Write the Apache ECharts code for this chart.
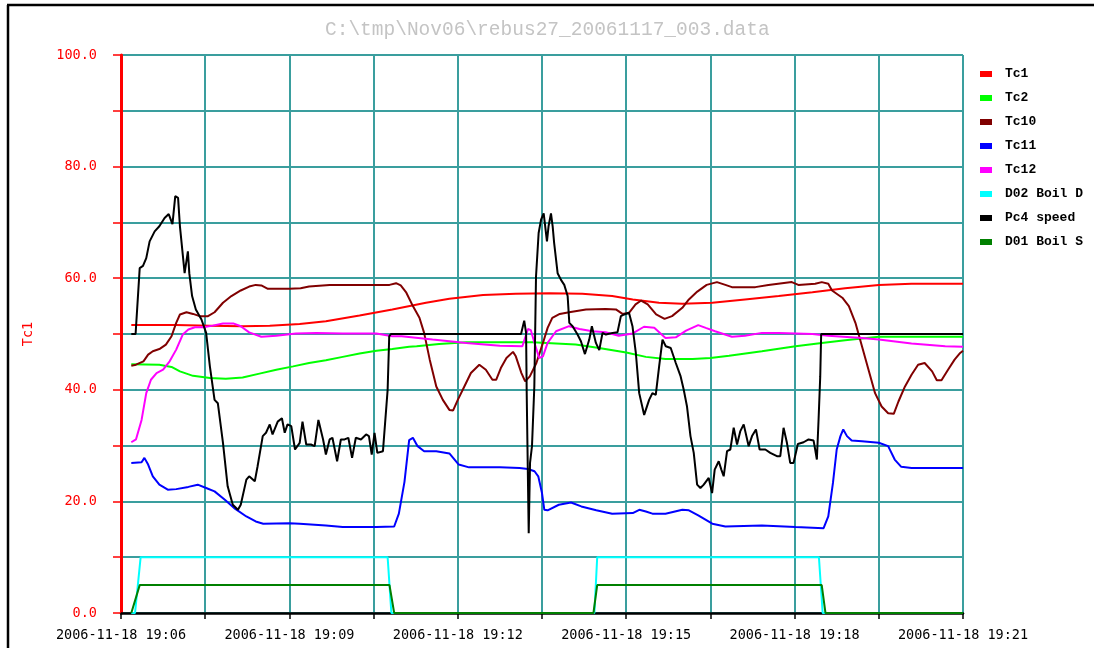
<!DOCTYPE html>
<html>
<head>
<meta charset="utf-8">
<script src="https://cdn.jsdelivr.net/npm/echarts@6/dist/echarts.min.js"></script>
<style>
html,body{margin:0;padding:0;background:#fff;}
#chart{width:1094px;height:648px;}
</style>
</head>
<body>
<div id="chart"></div>
<script>
// time in seconds after 2006-11-18 19:06:00
const titleText = 'C:\\tmp\\Nov06\\rebus27_20061117_003.data';
const seriesNames = ['Tc1','Tc2','Tc10','Tc11','Tc12','D02 Boil D','Pc4 speed','D01 Boil S'];
const seriesColors = ['#ff0000','#00ff00','#800000','#0000ff','#ff00ff','#00ffff','#000000','#008000'];
const xTickLabels = ['2006-11-18 19:06','2006-11-18 19:09','2006-11-18 19:12','2006-11-18 19:15','2006-11-18 19:18','2006-11-18 19:21'];
const yTickLabels = ['0.0','20.0','40.0','60.0','80.0','100.0'];

const tc1 = [[11,51.6],[59,51.6],[95,51.5],[130,51.4],[159,51.5],[191,51.8],[219,52.3],[255,53.3],[290,54.4],[326,55.6],[351,56.3],[387,57],[422,57.2],[458,57.3],[493,57.2],[525,56.8],[547,56.2],[575,55.6],[600,55.4],[632,55.6],[667,56.2],[703,56.8],[739,57.5],[774,58.2],[810,58.8],[845,59],[900,59]];

const tc2 = [[11,44.6],[41,44.5],[54,44.1],[63,43.3],[77,42.5],[95,42.1],[112,42],[130,42.2],[148,42.9],[166,43.6],[184,44.2],[201,44.8],[219,45.3],[237,45.9],[255,46.5],[273,47],[290,47.3],[308,47.7],[316,47.8],[340,48.2],[369,48.5],[405,48.5],[440,48.5],[465,48.3],[486,48.1],[511,47.5],[540,46.7],[561,45.9],[582,45.5],[611,45.5],[630,45.7],[650,46.1],[685,46.9],[721,47.8],[749,48.4],[774,48.9],[810,49.5],[845,49.5],[900,49.5]];

const tc10 = [[11,44.3],[16,44.5],[24,45.1],[29,46.3],[34,46.9],[41,47.3],[48,48.1],[54,49.6],[59,52],[63,53.5],[70,53.9],[77,53.6],[84,53.2],[93,53.2],[100,53.9],[109,55.6],[118,56.8],[128,57.8],[137,58.5],[144,58.8],[150,58.7],[157,58.1],[180,58.1],[192,58.2],[201,58.5],[223,58.8],[255,58.8],[287,58.8],[294,59.1],[299,58.7],[305,57.4],[312,55],[319,52.9],[324,50.2],[330,45.4],[337,40.6],[344,38.2],[351,36.4],[355,36.3],[360,38.2],[367,40.6],[374,43],[383,44.5],[390,43.6],[397,41.8],[401,41.8],[406,43.9],[412,45.7],[419,46.8],[422,46],[428,43],[432,41.5],[437,42.4],[444,44.8],[451,48.4],[456,51.1],[461,52.9],[469,53.6],[479,53.9],[497,54.4],[518,54.5],[529,54.4],[536,53.6],[543,53.8],[550,55.3],[556,56],[563,55.3],[572,53.5],[581,52.7],[589,53.2],[600,54.7],[607,56.2],[616,57.6],[626,58.8],[637,59.3],[646,58.8],[653,58.4],[678,58.4],[692,58.8],[717,59.3],[724,58.8],[742,59],[749,59.3],[756,59],[760,57.8],[771,56.5],[778,55],[785,52],[792,47.8],[799,43.6],[806,39.4],[813,37],[820,35.8],[826,35.7],[831,37.9],[838,40.6],[845,42.7],[852,44.5],[859,44.8],[867,43.3],[872,41.7],[877,41.7],[884,43.6],[891,45.4],[897,46.6],[900,47]];

const tc11 = [[11,26.9],[22,27],[25,27.8],[29,26.6],[34,24.5],[41,23],[50,22.1],[59,22.2],[72,22.6],[82,23],[91,22.4],[100,21.8],[111,20.3],[121,18.8],[134,17.3],[144,16.4],[152,16],[180,16.1],[191,16],[219,15.7],[237,15.4],[273,15.4],[292,15.5],[297,17.8],[303,23.5],[308,31],[312,31.4],[317,29.9],[324,29],[337,29],[351,28.6],[355,27.8],[361,26.6],[372,26.1],[405,26.1],[426,26],[435,25.8],[442,25.4],[446,24.5],[450,21.5],[452.5,18.5],[456,18.4],[468,19.4],[481,19.8],[492,19.1],[508,18.4],[525,17.8],[547,17.9],[554,18.5],[561,18.2],[568,17.8],[582,17.8],[600,18.5],[607,18.4],[617,17.5],[632,16],[646,15.5],[685,15.7],[721,15.4],[751,15.2],[756,17.3],[761,23.3],[765,29.3],[769,31.7],[772,32.9],[776,31.7],[781,30.9],[792,30.8],[810,30.5],[820,29.9],[827,27.5],[834,26.2],[845,26],[900,26]];

const tc12 = [[11,30.6],[16,31.1],[22,34.6],[27,39.4],[32,41.8],[38,43],[45,43.6],[52,45.1],[59,47.2],[66,49.9],[72,50.8],[79,51.2],[88,51.2],[98,51.5],[109,51.9],[120,51.9],[128,51.4],[137,50.3],[150,49.5],[166,49.7],[187,50.1],[209,50.2],[237,50.1],[273,50.1],[290,49.6],[300,49.6],[333,49],[369,48.4],[405,47.9],[429,47.8],[435,50.9],[438,50.7],[442,48.4],[447,45.7],[451,46],[456,48.4],[465,50.5],[479,51.4],[490,50.9],[504,50.5],[518,50.3],[532,49.7],[547,50.1],[559,51.3],[570,51.1],[582,49.3],[593,49.4],[604,50.6],[617,51.6],[625,51.1],[635,50.5],[653,49.5],[667,49.7],[685,50.2],[703,50.2],[739,50],[756,49.7],[792,49.3],[810,49],[845,48.3],[881,47.8],[900,47.7]];

const d02 = [[11,0],[15,0],[21,10],[285,10],[289,0],[506,0],[509,10],[746,10],[750,0],[900,0]];

const pc4 = [[11,50],[15.6,50],[20,61.8],[23.5,62.2],[27,63.6],[30.6,66.6],[36,68.4],[41,69.3],[46.6,70.8],[51,71.5],[55,69.7],[58,74.7],[61,74.4],[63,69.3],[68,60.9],[71.5,64.8],[73,60.9],[76,56.8],[80,54.4],[86,52.6],[91,50.2],[95,44.2],[100,38.2],[103.5,37.6],[109,30.5],[114,22.7],[119.5,19.4],[125,18.5],[128,19.4],[134,23.9],[137,24.5],[143,23.6],[146,26.3],[151.5,31.7],[155,32.3],[159,33.8],[162,32],[167.5,34.3],[172,34.9],[175,32.3],[178,33.8],[182,33.5],[186,29.3],[191,30.5],[194,34.3],[198,30.2],[203,30.2],[207,29.9],[211,34.6],[216,31.1],[219,28.4],[223,31.1],[226,31.4],[231,27.2],[235,31.1],[239,31.1],[243,31.4],[247,27.8],[251,31.4],[256.5,31.1],[262,32],[265,31.7],[268,28.4],[271,32.3],[274,28.7],[280,29],[285,40],[286.7,49.6],[288.5,50],[427.6,50],[431,52.4],[433,50.2],[433.6,40],[435.8,14.3],[437.2,26.9],[439.3,29.9],[441.8,40.6],[443.6,60.3],[446.4,68.1],[449,70.5],[451.8,71.6],[455.3,66.6],[457,69.3],[459.6,71.6],[461.4,69.3],[463,66.3],[466.7,60.9],[470.3,59.7],[473.8,58.8],[477.4,56.8],[479.2,52],[482.7,51.4],[488,49.9],[491.6,48.7],[495.9,46.4],[500.5,49],[503.3,51.4],[507.6,48.4],[511.2,47.1],[514.7,50.2],[518.3,49.9],[525.4,50.2],[530.7,50.3],[534.3,53.2],[537.9,53.5],[543,53.8],[546.7,51.4],[550.3,46.6],[553.9,39.4],[559.2,35.5],[564.5,38.2],[568,39.4],[571.6,39.1],[575.2,44.2],[578.8,49],[582.3,47.8],[587.6,47.5],[593,44.8],[598,42.5],[601.5,40],[605,37],[608.7,31.7],[612.2,28.7],[615.8,23],[619.3,22.4],[622.9,23],[628.2,24.2],[631.8,21.5],[634.6,25.7],[638.9,27.2],[641.7,25.7],[644.2,24.5],[647.8,29],[651.3,29.3],[654.9,33.2],[658.5,30.2],[662,32.6],[665.6,33.8],[670.9,29.9],[674.5,31.7],[678.7,32.9],[682.6,29.3],[688.7,29.3],[694,28.7],[701.1,28.1],[704.7,28.1],[708.2,33.2],[711.8,30.5],[715.3,26.9],[718.9,26.9],[723.5,30.3],[729.6,30.6],[734.9,31.1],[740.3,30.9],[742,29.3],[743.8,27.5],[745.6,34.6],[747.4,42.4],[748.4,50],[900,50]];

const d01 = [[11,0],[13,0],[20,5],[287,5],[292,0],[505,0],[509,5],[749,5],[753,0],[900,0]];

const seriesData = [tc1, tc2, tc10, tc11, tc12, d02, pc4, d01];

const chart = echarts.init(document.getElementById('chart'), null, {renderer: 'canvas'});
const monoSans = 'DejaVu Sans Mono, monospace';
const monoSerif = 'Liberation Mono, Courier New, monospace';

chart.setOption({
  animation: false,
  backgroundColor: '#ffffff',
  title: {
    text: titleText,
    left: 320,
    top: 15,
    textStyle: {color: '#c4c4c4', fontFamily: monoSerif, fontSize: 19.5, fontWeight: 'normal'}
  },
  graphic: [
    {type: 'line', shape: {x1: 7, y1: 5, x2: 1094, y2: 5}, style: {stroke: '#000', lineWidth: 2.5}},
    {type: 'line', shape: {x1: 8, y1: 5, x2: 8, y2: 648}, style: {stroke: '#000', lineWidth: 2.5}}
  ],
  legend: {
    orient: 'vertical',
    left: 975,
    top: 61,
    itemWidth: 12,
    itemHeight: 6,
    itemGap: 8,
    icon: 'rect',
    textStyle: {fontFamily: monoSerif, fontSize: 13, fontWeight: 'bold', color: '#000', lineHeight: 16, padding: [0, 0, 0, 8]},
    data: seriesNames
  },
  grid: {left: 121, right: 131, top: 55, bottom: 35, containLabel: false},
  xAxis: {
    type: 'value', min: 0, max: 900, interval: 90,
    axisLine: {show: true, onZero: false, lineStyle: {color: '#000', width: 2.5}},
    axisTick: {show: true, length: 6, lineStyle: {color: '#000', width: 1.5}},
    axisLabel: {
      color: '#000', fontFamily: monoSans, fontSize: 13.5, margin: 15,
      formatter: function (v) { return v % 180 === 0 ? xTickLabels[v / 180] : ''; }
    },
    splitLine: {show: true, lineStyle: {color: '#3a9e9e', width: 2}}
  },
  yAxis: {
    type: 'value', min: 0, max: 100, interval: 10,
    name: 'Tc1', nameLocation: 'middle', nameGap: 86, nameRotate: 90,
    nameTextStyle: {color: '#ff0000', fontFamily: monoSans, fontSize: 13.5},
    axisLine: {show: true, lineStyle: {color: '#ff0000', width: 3}},
    axisTick: {show: true, length: 8, lineStyle: {color: '#ff0000', width: 1.5}},
    axisLabel: {
      color: '#ff0000', fontFamily: monoSans, fontSize: 13.5, margin: 24,
      formatter: function (v) { return v % 20 === 0 ? yTickLabels[v / 20] : ''; }
    },
    splitLine: {show: true, lineStyle: {color: '#3a9e9e', width: 2}}
  },
  series: seriesNames.map(function (name, i) {
    return {
      name: name,
      type: 'line',
      data: seriesData[i],
      showSymbol: false,
      symbol: 'none',
      color: seriesColors[i],
      lineStyle: {color: seriesColors[i], width: 2},
      z: 3 + i
    };
  })
});
</script>
</body>
</html>
